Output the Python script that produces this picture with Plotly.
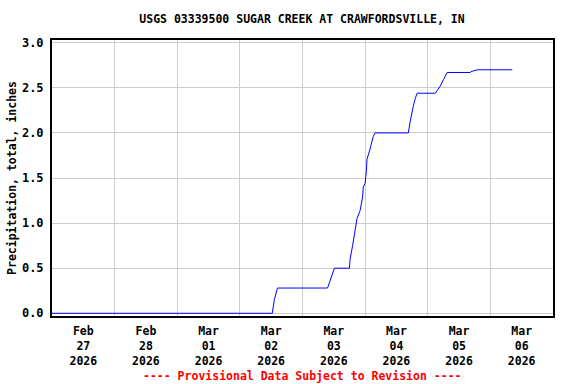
import plotly.graph_objects as go

times = [
    "2026-02-27 00:00", "2026-03-02 12:25", "2026-03-02 13:12", "2026-03-02 14:24",
    "2026-03-03 09:36", "2026-03-03 10:48", "2026-03-03 12:14", "2026-03-03 18:00",
    "2026-03-03 18:14", "2026-03-03 19:12", "2026-03-03 20:10", "2026-03-03 20:53",
    "2026-03-03 22:05", "2026-03-03 23:02", "2026-03-03 23:17", "2026-03-04 00:00",
    "2026-03-04 00:29", "2026-03-04 00:43", "2026-03-04 01:41", "2026-03-04 02:38",
    "2026-03-04 03:07", "2026-03-04 03:50", "2026-03-04 16:34", "2026-03-04 17:17",
    "2026-03-04 18:00", "2026-03-04 18:29", "2026-03-04 19:12", "2026-03-04 19:55",
    "2026-03-05 02:53", "2026-03-05 03:36", "2026-03-05 04:48", "2026-03-05 06:00",
    "2026-03-05 07:26", "2026-03-05 16:19", "2026-03-05 16:34", "2026-03-05 19:12",
    "2026-03-06 08:24",
]
precip = [
    0.00, 0.00, 0.15, 0.28,
    0.28, 0.38, 0.50, 0.50,
    0.60, 0.75, 0.95, 1.05,
    1.14, 1.29, 1.40, 1.44,
    1.58, 1.71, 1.80, 1.91,
    1.96, 2.00, 2.00, 2.13,
    2.24, 2.30, 2.38, 2.44,
    2.44, 2.47, 2.52, 2.59,
    2.67, 2.67, 2.68, 2.70,
    2.70,
]
y_ticks = [0.0, 0.5, 1.0, 1.5, 2.0, 2.5, 3.0]

font_family = "DejaVu Sans Mono"

fig = go.Figure()
fig.add_trace(go.Scatter(x=times, y=precip, mode="lines",
                         line=dict(color="#0000ff", width=1, shape="linear"),
                         showlegend=False, hoverinfo="skip"))

fig.update_layout(
    width=576, height=384,
    margin=dict(l=52, r=23, t=40, b=68, autoexpand=False),
    paper_bgcolor="white", plot_bgcolor="white",
    font=dict(family=font_family, size=11, color="black"),
    title=dict(text="<b>USGS 03339500 SUGAR CREEK AT CRAWFORDSVILLE, IN</b>",
               x=302 / 576, xanchor="center", y=1 - 19 / 384, yanchor="middle",
               font=dict(family=font_family, size=11.5, color="black")),
    xaxis=dict(
        type="date", automargin=False,
        range=["2026-02-27 00:00", "2026-03-07 00:00"],
        dtick=86400000, tick0="2026-02-27",
        ticklabelmode="period",
        tickformat="<b>%b</b><br><b>%d</b><br><b>%Y</b>",
        showgrid=True, gridcolor="#cccccc", gridwidth=1,
        showline=True, linecolor="black", linewidth=2, mirror=True,
        ticks="", ticklabelstandoff=3,
        tickfont=dict(family=font_family, size=11.5, color="black"),
        zeroline=False,
    ),
    yaxis=dict(
        automargin=False,
        range=[-0.03, 3.03],
        tickvals=y_ticks, ticktext=["<b>%.1f</b>" % v for v in y_ticks],
        showgrid=True, gridcolor="#cccccc", gridwidth=1,
        showline=True, linecolor="black", linewidth=2, mirror=True,
        ticks="", zeroline=False, ticklabelstandoff=4,
        tickfont=dict(family=font_family, size=12, color="black"),
        title=dict(text="<b>Precipitation, total, inches</b>",
                   font=dict(family=font_family, size=11.5, color="black"), standoff=3),
    ),
)

fig.add_annotation(text="<b>---- Provisional Data Subject to Revision ----</b>",
                   xref="paper", yref="paper", x=0.5, y=-(376 - 316) / 276,
                   xanchor="center", yanchor="middle", showarrow=False,
                   font=dict(family=font_family, size=11.5, color="red"))

fig.write_html("out.html", config={"displayModeBar": False},
               post_script="document.body.style.margin='0px';")
